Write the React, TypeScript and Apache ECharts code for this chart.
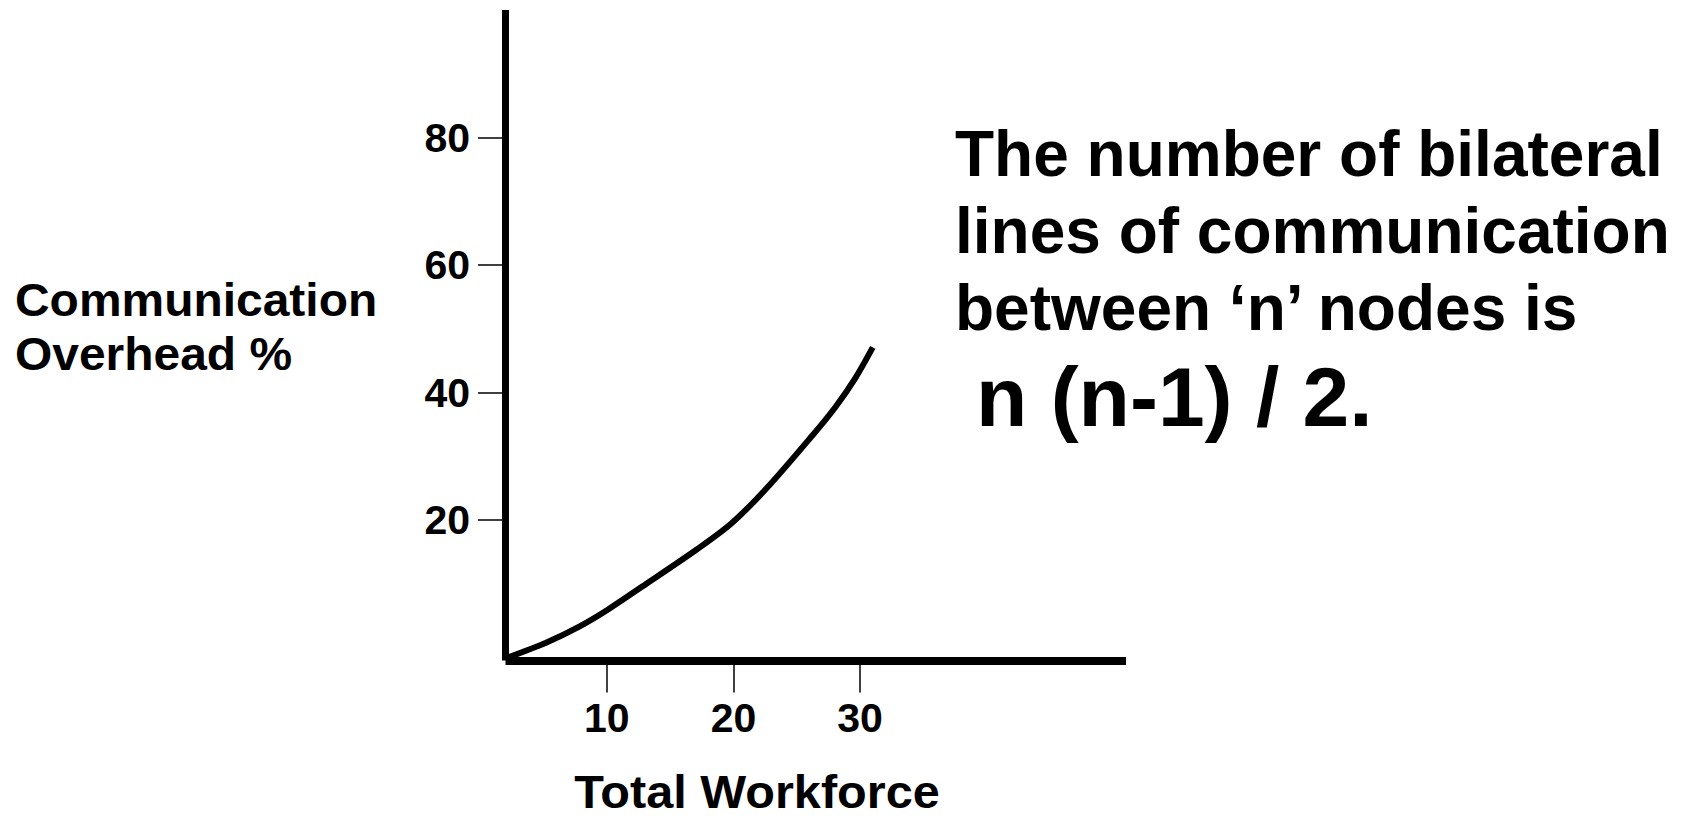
import React, { useEffect, useRef } from "react";
import * as echarts from "echarts";

// Data
const workforce = [2.2, 5.2, 7.9, 10.1, 13.1, 17.1, 19.9, 22.8, 26.2, 28.0, 29.6, 31.0];
const overhead = [-1.5, 0.8, 3.4, 6.0, 10.0, 15.4, 19.6, 25.4, 33.2, 37.6, 42.2, 47.1];
const xTicks = [10, 20, 30];
const yTicks = [20, 40, 60, 80];
const xTitle = "Total Workforce";
const yTitle = ["Communication", "Overhead %"];
const noteLines = ["The number of bilateral", "lines of communication", "between \u2018n\u2019 nodes is"];
const formula = "n (n-1) / 2.";

const FAMILY = "'Liberation Sans', Arial, Helvetica, sans-serif";

export default function App() {
  const ref = useRef<HTMLDivElement>(null);

  useEffect(() => {
    if (!ref.current) return;
    const chart = echarts.init(ref.current, null, { renderer: "svg" });
    const points = workforce.map((x, i) => [x, overhead[i]]);
    const font = (size: number) => `bold ${size}px ${FAMILY}`;

    chart.setOption({
      animation: false,
      backgroundColor: "#ffffff",
      grid: { left: 505.5, right: 556, top: 10, bottom: 159.5 },
      xAxis: {
        type: "value",
        min: 2,
        max: 51,
        axisLine: { show: true, onZero: false, lineStyle: { color: "#000", width: 8, cap: "butt" } },
        axisTick: { show: true, customValues: xTicks, length: 32, lineStyle: { color: "#000", width: 1.5 } },
        axisLabel: {
          show: true,
          customValues: xTicks,
          margin: 37,
          fontSize: 41,
          fontWeight: "bold",
          fontFamily: FAMILY,
          color: "#000",
        },
        splitLine: { show: false },
      },
      yAxis: {
        type: "value",
        min: -2,
        max: 100,
        axisLine: { show: true, onZero: false, lineStyle: { color: "#000", width: 7, cap: "butt" } },
        axisTick: { show: true, customValues: yTicks, length: 27.5, lineStyle: { color: "#000", width: 1.5 } },
        axisLabel: {
          show: true,
          customValues: yTicks,
          margin: 35.5,
          fontSize: 41,
          fontWeight: "bold",
          fontFamily: FAMILY,
          color: "#000",
        },
        splitLine: { show: false },
      },
      series: [
        {
          type: "line",
          data: points,
          smooth: 0.3,
          symbol: "none",
          showSymbol: false,
          lineStyle: { color: "#000", width: 6, cap: "butt" },
          silent: true,
        },
      ],
      graphic: [
        {
          type: "text",
          x: 15,
          y: 300,
          scaleX: 1.02,
          style: { text: yTitle[0], font: font(47), fill: "#000", align: "left", verticalAlign: "middle" },
        },
        {
          type: "text",
          x: 15,
          y: 354,
          scaleX: 1.02,
          style: { text: yTitle[1], font: font(47), fill: "#000", align: "left", verticalAlign: "middle" },
        },
        {
          type: "text",
          x: 757,
          y: 792,
          scaleX: 1.035,
          style: {
            text: xTitle,
            font: font(47),
            lineHeight: 44,
            fill: "#000",
            align: "center",
            verticalAlign: "middle",
          },
        },
        ...noteLines.map((t, i) => ({
          type: "text",
          x: 955,
          y: 154 + i * 77,
          style: { text: t, font: font(64), fill: "#000", align: "left", verticalAlign: "middle" },
        })),
        {
          type: "text",
          x: 976,
          y: 397,
          style: { text: formula, font: font(84), fill: "#000", align: "left", verticalAlign: "middle" },
        },
      ],
    });

    return () => chart.dispose();
  }, []);

  return (
    <div
      ref={ref}
      style={{ position: "fixed", left: 0, top: 0, width: 1682, height: 820, background: "#fff" }}
    />
  );
}
